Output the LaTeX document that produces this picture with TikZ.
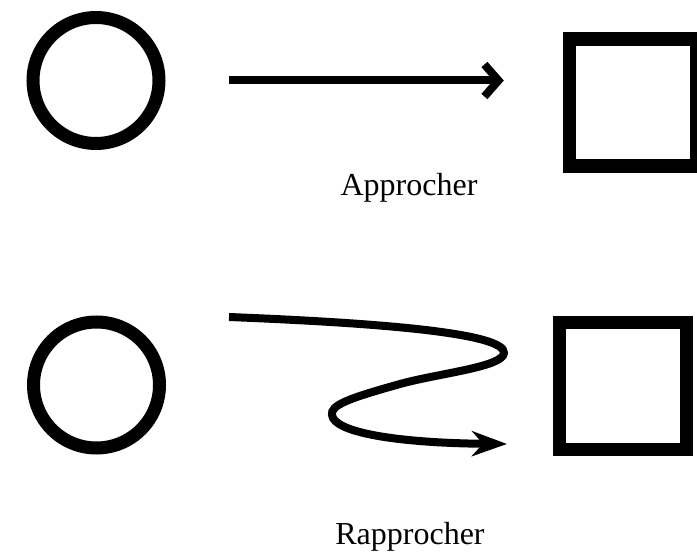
\documentclass[tikz,border=0pt]{standalone}
\usepackage{fontspec}
\setmainfont{Liberation Serif}
\usepackage{tikz}
\usetikzlibrary{arrows.meta,positioning,calc}

\begin{document}
\begin{tikzpicture}[
  x=1pt, y=1pt,
  srcnode/.style={circle, draw, line width=13pt, minimum size=126pt, inner sep=0pt},
  tgtnode/.style={rectangle, draw, line width=13.5pt, minimum size=127pt, inner sep=0pt},
  arrow/.style={line width=8pt},
  lbl/.style={font=\fontsize{32}{38}\selectfont, anchor=base}
]
\useasboundingbox (0,0) rectangle (697,555);

% --- Approcher ---
\node[srcnode] (src1) at (96,474.5) {};
\node[tgtnode] (tgt1) at (633,452.5) {};
\draw[arrow, -{Straight Barb[length=14pt,width=32pt,line join=miter,line cap=butt]},
      shorten <=63.5pt, shorten >=59pt]
  (src1.east) -- (src1.east -| tgt1.west);
\node[lbl] (lbl1) at (409,359) {Approcher};

% --- Rapprocher ---
\node[srcnode] (src2) at (96.5,170) {};
\node[tgtnode] (tgt2) at (623,169) {};
\coordinate (start2) at (229,238);
\coordinate (end2) at (507,111);
\draw[arrow, -{Stealth[length=35pt,width=25pt,inset=11pt]}]
  (start2) .. controls (380,232) and (505,222) .. (504,202)
           .. controls (503,188) and (440,182) .. (400,171)
           .. controls (350,157) and (330,150) .. (332,140)
           .. controls (334,122) and (400,112) .. (end2);
\node[lbl] (lbl2) at (410,10) {Rapprocher};

\end{tikzpicture}
\end{document}
